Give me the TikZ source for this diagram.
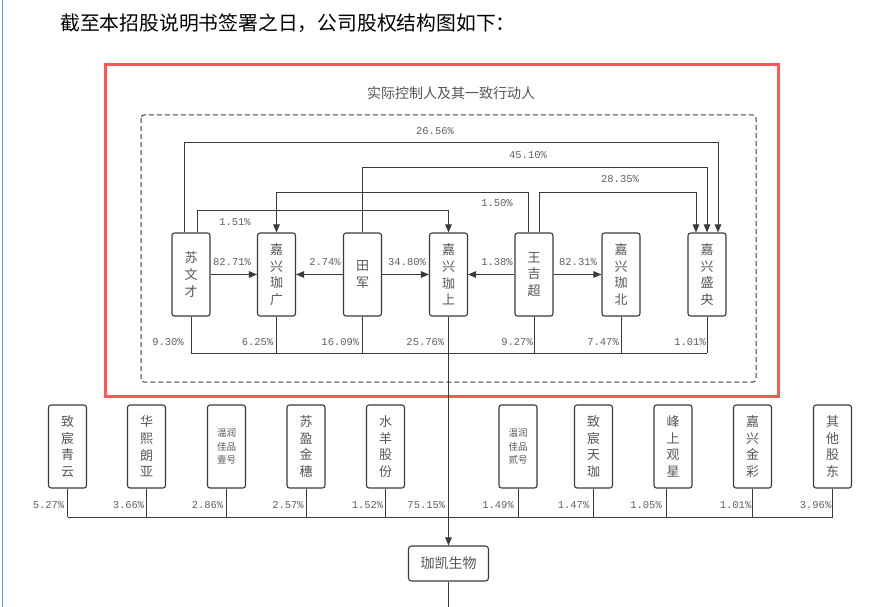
\documentclass[tikz,border=0pt]{standalone}
\usepackage{fontspec}
\newfontfamily\cjk{Noto Sans CJK SC}
\newfontfamily\numf{Liberation Mono}
\usetikzlibrary{arrows.meta}
\definecolor{ln}{HTML}{3A3A3A}
\definecolor{tx}{HTML}{555555}
\definecolor{nx}{HTML}{606060}
\definecolor{redb}{HTML}{FF5757}
\definecolor{blueb}{HTML}{5B9BD5}
\begin{document}
\begin{tikzpicture}[x=1pt,y=-1pt,
 tbox/.style={draw=ln, line width=1.1pt, rounded corners=2.5pt, minimum width=38pt, minimum height=83pt, inner sep=0pt, text=tx, align=center, font=\cjk\fontsize{13}{16.7}\selectfont},
 sbox/.style={tbox, font=\cjk\fontsize{9.5}{13.5}\selectfont},
 pl/.style={inner sep=0pt, text=nx, font=\numf\fontsize{10.5}{12}\selectfont},
 cn/.style={draw=ln, line width=1pt},
 arr/.style={cn, -{Triangle[length=8pt,width=6.5pt]}},
]
\useasboundingbox (0,0) rectangle (886,607);
% page edge and header
\draw[blueb, line width=1pt] (2,0) -- (2,607);
\node[anchor=west, inner sep=0pt, font=\cjk\fontsize{19.8}{22}\selectfont, text=black] (hdr) at (60,23) {截至本招股说明书签署之日，公司股权结构图如下：};
% frames
\draw[redb, line width=3pt] (105,65) rectangle (778,396);
\draw[ln, line width=1pt, dash pattern=on 5pt off 3pt, rounded corners=3pt] (141,115) rectangle (756,382);
\node[inner sep=0pt, text=tx, font=\cjk\fontsize{14}{16}\selectfont] (ttl) at (451,93) {实际控制人及其一致行动人};
% top row
\node[tbox] (swc) at (191,274.5) {苏\\文\\才};
\node[tbox] (jg)  at (276.5,274.5) {嘉\\兴\\珈\\广};
\node[tbox] (tj)  at (362.5,274.5) {田\\军};
\node[tbox] (jsh) at (448.5,274.5) {嘉\\兴\\珈\\上};
\node[tbox] (wjc) at (534,274.5) {王\\吉\\超};
\node[tbox] (jb)  at (621,274.5) {嘉\\兴\\珈\\北};
\node[tbox] (sy)  at (707,274.5) {嘉\\兴\\盛\\央};
% helper levels
\coordinate (l1) at (0,143);
\coordinate (l2) at (0,167);
\coordinate (l3) at (0,192);
\coordinate (l4) at (0,210);
\coordinate (b1) at (0,353);
\coordinate (b2) at (0,517);
% top connectors
\draw[arr] ([xshift=-7pt]swc.north) -- ([xshift=-7pt]swc.north |- l1) -| ([xshift=11pt]sy.north);
\draw[arr] (tj.north) -- (tj.north |- l2) -| (sy.north);
\draw[arr] ([xshift=5pt]wjc.north) -- ([xshift=5pt]wjc.north |- l3) -| ([xshift=-11pt]sy.north);
\draw[arr] ([xshift=-6pt]wjc.north) -- ([xshift=-6pt]wjc.north |- l3) -| (jg.north);
\draw[arr] ([xshift=6pt]swc.north) -- ([xshift=6pt]swc.north |- l4) -| (jsh.north);
\node[pl] (p2656) at (435,131) {26.56\%};
\node[pl] (p4510) at (528,155) {45.10\%};
\node[pl] (p2835) at (620,179) {28.35\%};
\node[pl] (p150)  at (497,203) {1.50\%};
\node[pl] (p151)  at (235,222) {1.51\%};
% middle connectors
\draw[arr] (swc.east) -- (jg.west);
\draw[arr] (tj.west) -- (jg.east);
\draw[arr] (tj.east) -- (jsh.west);
\draw[arr] (wjc.west) -- (jsh.east);
\draw[arr] (wjc.east) -- (jb.west);
\node[pl] (p8271) at (232,262) {82.71\%};
\node[pl] (p274)  at (325,262) {2.74\%};
\node[pl] (p3480) at (407,262) {34.80\%};
\node[pl] (p138)  at (497,262) {1.38\%};
\node[pl] (p8231) at (578,262) {82.31\%};
% lower bus of top row
\foreach \n in {swc,jg,tj,wjc,jb,sy} \draw[cn] (\n.south) -- (\n.south |- b1);
\draw[cn] (swc.south |- b1) -- (sy.south |- b1);
\node[pl, anchor=east] (q930)  at ([xshift=-7pt]swc.south |- 0,342) {9.30\%};
\node[pl, anchor=east] (q625)  at ([xshift=-3pt]jg.south |- 0,342) {6.25\%};
\node[pl, anchor=east] (q1609) at ([xshift=-3pt]tj.south |- 0,342) {16.09\%};
\node[pl, anchor=east] (q2576) at ([xshift=-4pt]jsh.south |- 0,342) {25.76\%};
\node[pl, anchor=east] (q927)  at ([xshift=-1pt]wjc.south |- 0,342) {9.27\%};
\node[pl, anchor=east] (q747)  at ([xshift=-2pt]jb.south |- 0,342) {7.47\%};
\node[pl, anchor=east] (q101)  at ([xshift=-1pt]sy.south |- 0,342) {1.01\%};
% bottom row
\node[tbox] (z1)  at (67.5,446.5)  {致\\宸\\青\\云};
\node[tbox] (z2)  at (146.5,446.5) {华\\熙\\朗\\亚};
\node[sbox] (z3)  at (226.5,446.5) {温润\\佳品\\壹号};
\node[tbox] (z4)  at (306,446.5)   {苏\\盈\\金\\穗};
\node[tbox] (z5)  at (385.5,446.5) {水\\羊\\股\\份};
\node[sbox] (z6)  at (518,446.5)   {温润\\佳品\\贰号};
\node[tbox] (z7)  at (593.5,446.5) {致\\宸\\天\\珈};
\node[tbox] (z8)  at (673,446.5)   {峰\\上\\观\\星};
\node[tbox] (z9)  at (752.5,446.5) {嘉\\兴\\金\\彩};
\node[tbox] (z10) at (832.5,446.5) {其\\他\\股\\东};
\foreach \n in {z1,z2,z3,z4,z5,z6,z7,z9,z10} \draw[cn] (\n.south) -- (\n.south |- b2);
\draw[cn] ([xshift=-7pt]z8.south) -- ([xshift=-7pt]z8.south |- b2);
\draw[cn] (z1.south |- b2) -- (z10.south |- b2);
\node[pl, anchor=east] (r1)  at ([xshift=-3pt]z1.south |- 0,505) {5.27\%};
\node[pl, anchor=east] (r2)  at ([xshift=-2pt]z2.south |- 0,505) {3.66\%};
\node[pl, anchor=east] (r3)  at ([xshift=-3pt]z3.south |- 0,505) {2.86\%};
\node[pl, anchor=east] (r4)  at ([xshift=-2pt]z4.south |- 0,505) {2.57\%};
\node[pl, anchor=east] (r5)  at ([xshift=-2pt]z5.south |- 0,505) {1.52\%};
\node[pl, anchor=east] (r0)  at ([xshift=-3pt]jsh.south |- 0,505) {75.15\%};
\node[pl, anchor=east] (r6)  at ([xshift=-4pt]z6.south |- 0,505) {1.49\%};
\node[pl, anchor=east] (r7)  at ([xshift=-4pt]z7.south |- 0,505) {1.47\%};
\node[pl, anchor=east] (r8)  at ([xshift=-11pt]z8.south |- 0,505) {1.05\%};
\node[pl, anchor=east] (r9)  at ([xshift=-1pt]z9.south |- 0,505) {1.01\%};
\node[pl, anchor=east] (r10) at ([xshift=-1pt]z10.south |- 0,505) {3.96\%};
% company
\node[draw=ln, line width=1.1pt, rounded corners=3pt, minimum width=80pt, minimum height=35pt, inner sep=0pt, text=tx, font=\cjk\fontsize{14}{16}\selectfont] (kai) at (448.5,563.5) {珈凯生物};
\draw[arr] (jsh.south) -- (kai.north);
\coordinate (bot) at (448.5,607);
\draw[cn] (kai.south) -- (bot);
\end{tikzpicture}
\end{document}
